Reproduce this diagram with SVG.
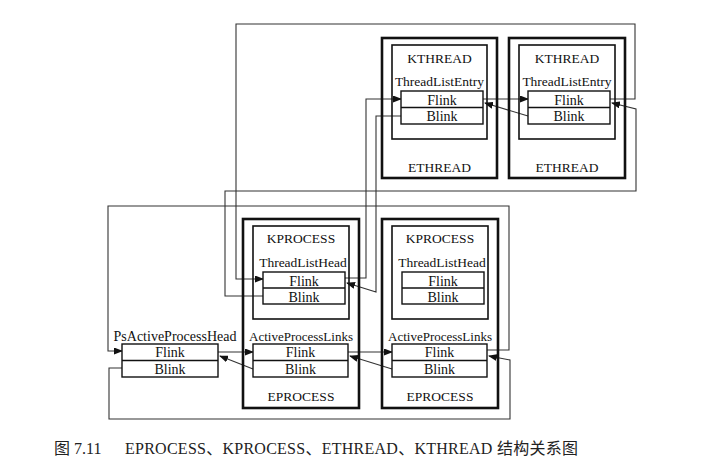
<svg xmlns="http://www.w3.org/2000/svg" width="726" height="476" viewBox="0 0 726 476">
<style>
.outer{fill:none;stroke:#111;stroke-width:2.6}
.inner{fill:none;stroke:#111;stroke-width:1.6}
.field{fill:#fff;stroke:#111;stroke-width:1.4}
.t{font-family:"Liberation Serif","Times New Roman",serif;font-size:13.5px;fill:#111;text-anchor:middle}
.f{font-size:14px}
.c{fill:none;stroke:#333;stroke-width:1.1}
.cap{font-family:"Liberation Serif","Noto Sans CJK SC",serif;font-size:16px;fill:#222}
</style>
<defs>
<marker id="ah" markerWidth="9" markerHeight="7" refX="8" refY="3.5" orient="auto" markerUnits="userSpaceOnUse">
<path d="M0,0 L9,3.5 L0,7 z" fill="#111"/>
</marker>
</defs>
<rect width="726" height="476" fill="#fff"/>

<g id="connectors">
<path class="c" d="M483,99 H528" marker-end="url(#ah)"/>
<path class="c" d="M528,116 L485,103" marker-end="url(#ah)"/>
<path class="c" d="M610,99 H635 V24 H236 V279 H263" marker-end="url(#ah)"/>
<path class="c" d="M263,296 H225 V191 H636 V109 L612,103" marker-end="url(#ah)"/>
<path class="c" d="M345,278 H366 V99 H401" marker-end="url(#ah)"/>
<path class="c" d="M401,116 H376 V292 L347,283" marker-end="url(#ah)"/>
<path class="c" d="M218,352 H253" marker-end="url(#ah)"/>
<path class="c" d="M253,369 L220,356" marker-end="url(#ah)"/>
<path class="c" d="M348,352 H392" marker-end="url(#ah)"/>
<path class="c" d="M392,369 L350,356" marker-end="url(#ah)"/>
<path class="c" d="M487,350 H509 V206 H108 V351 H122" marker-end="url(#ah)"/>
<path class="c" d="M122,368 H109 V419 H510 V360 L489,356" marker-end="url(#ah)"/>
</g>

<g id="ethread1">
<rect class="outer" x="382" y="38" width="115" height="140"/>
<rect class="inner" x="392" y="45" width="95" height="94"/>
<text class="t" x="439.5" y="63">KTHREAD</text>
<text class="t" x="439.5" y="86">ThreadListEntry</text>
<rect class="field" x="401" y="91" width="82" height="33"/>
<line class="field" x1="401" y1="107.5" x2="483" y2="107.5"/>
<text class="t f" x="442" y="105">Flink</text>
<text class="t f" x="442" y="121">Blink</text>
<text class="t" x="439.5" y="172">ETHREAD</text>
</g>

<g id="ethread2">
<rect class="outer" x="509" y="38" width="116" height="140"/>
<rect class="inner" x="519" y="45" width="96" height="94"/>
<text class="t" x="567" y="63">KTHREAD</text>
<text class="t" x="567" y="86">ThreadListEntry</text>
<rect class="field" x="528" y="91" width="82" height="33"/>
<line class="field" x1="528" y1="107.5" x2="610" y2="107.5"/>
<text class="t f" x="569" y="105">Flink</text>
<text class="t f" x="569" y="121">Blink</text>
<text class="t" x="567" y="172">ETHREAD</text>
</g>

<g id="psactiveprocesshead">
<text class="t f" x="175" y="341">PsActiveProcessHead</text>
<rect class="field" x="122" y="344" width="96" height="33"/>
<line class="field" x1="122" y1="360.5" x2="218" y2="360.5"/>
<text class="t f" x="170" y="357">Flink</text>
<text class="t f" x="170" y="374">Blink</text>
</g>

<g id="eprocess1">
<rect class="outer" x="243" y="219" width="116" height="189"/>
<rect class="inner" x="253" y="226" width="96" height="93"/>
<text class="t" x="301" y="243">KPROCESS</text>
<text class="t" x="303" y="267">ThreadListHead</text>
<rect class="field" x="263" y="272" width="82" height="32"/>
<line class="field" x1="263" y1="288" x2="345" y2="288"/>
<text class="t f" x="304" y="286">Flink</text>
<text class="t f" x="304" y="302">Blink</text>
<text class="t" x="301" y="341" style="font-size:13px">ActiveProcessLinks</text>
<rect class="field" x="253" y="344" width="95" height="33"/>
<line class="field" x1="253" y1="360.5" x2="348" y2="360.5"/>
<text class="t f" x="300.5" y="357">Flink</text>
<text class="t f" x="300.5" y="374">Blink</text>
<text class="t" x="301" y="401">EPROCESS</text>
</g>

<g id="eprocess2">
<rect class="outer" x="382" y="219" width="116" height="189"/>
<rect class="inner" x="392" y="226" width="96" height="93"/>
<text class="t" x="440" y="243">KPROCESS</text>
<text class="t" x="442" y="267">ThreadListHead</text>
<rect class="field" x="402" y="272" width="82" height="32"/>
<line class="field" x1="402" y1="288" x2="484" y2="288"/>
<text class="t f" x="443" y="286">Flink</text>
<text class="t f" x="443" y="302">Blink</text>
<text class="t" x="440" y="341" style="font-size:13px">ActiveProcessLinks</text>
<rect class="field" x="392" y="344" width="95" height="33"/>
<line class="field" x1="392" y1="360.5" x2="487" y2="360.5"/>
<text class="t f" x="439.5" y="357">Flink</text>
<text class="t f" x="439.5" y="374">Blink</text>
<text class="t" x="440" y="401">EPROCESS</text>
</g>

<g id="caption">
<text class="cap" x="54" y="454">图 7.11</text>
<text class="cap" x="125" y="454" textLength="453" lengthAdjust="spacing">EPROCESS、KPROCESS、ETHREAD、KTHREAD 结构关系图</text>
</g>
</svg>
